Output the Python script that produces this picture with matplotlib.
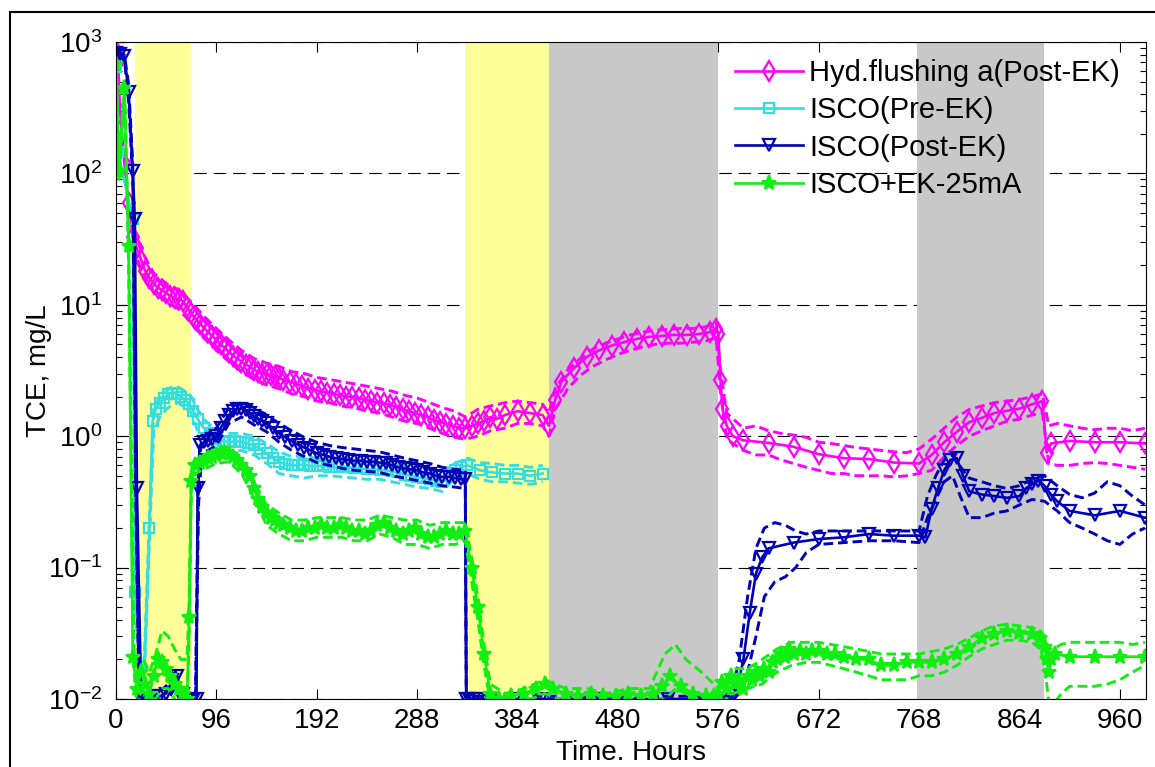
import matplotlib
matplotlib.use("Agg")
import matplotlib.pyplot as plt
from matplotlib.patches import Rectangle
from matplotlib.ticker import NullLocator

plt.rcParams['font.family'] = ['Liberation Sans', 'DejaVu Sans']
plt.rcParams['lines.scale_dashes'] = False

# ---- data (TCE, mg/L vs time, hours) ----
labels = ['Hyd.flushing a(Post-EK)', 'ISCO(Pre-EK)', 'ISCO(Post-EK)', 'ISCO+EK-25mA']

hyd_t = [0, 2, 4, 8, 12, 16, 20, 24, 28, 32,
         36, 40, 44, 48, 52, 56, 60, 64, 68, 72,
         76, 80, 84, 88, 92, 96, 100, 104, 108, 112,
         116, 120, 124, 128, 132, 136, 140, 144, 148, 152,
         156, 160, 166, 172, 178, 184, 190, 196, 202, 208,
         214, 220, 226, 232, 238, 244, 250, 256, 262, 268,
         274, 280, 286, 292, 298, 304, 310, 316, 322, 328,
         334, 340, 346, 352, 358, 364, 372, 384, 396, 408,
         414, 420, 426, 438, 450, 462, 474, 486, 498, 510,
         522, 534, 546, 558, 568, 574, 576, 578, 580, 584,
         590, 600, 624, 648, 672, 696, 720, 744, 768, 780,
         792, 804, 816, 828, 840, 852, 864, 876, 886, 890,
         894, 912, 936, 960, 984]
hyd_c = [850, 700, 290, 120, 60, 33, 27, 22, 18, 16,
         14.5, 13.5, 13, 12.3, 11.7, 11.2, 11, 10.7, 9.6, 8.6,
         7.8, 7.2, 6.7, 6.2, 5.8, 5.4, 5.0, 4.7, 4.4, 4.1,
         3.9, 3.7, 3.5, 3.4, 3.2, 3.1, 3.0, 2.95, 2.9, 2.85,
         2.75, 2.7, 2.6, 2.5, 2.4, 2.3, 2.25, 2.2, 2.15, 2.1,
         2.05, 2.0, 2.0, 1.95, 1.9, 1.85, 1.8, 1.78, 1.72, 1.68,
         1.6, 1.55, 1.5, 1.45, 1.4, 1.32, 1.28, 1.24, 1.2, 1.15,
         1.15, 1.2, 1.25, 1.3, 1.4, 1.35, 1.45, 1.55, 1.5, 1.45,
         1.2, 1.9, 2.6, 3.3, 4.0, 4.5, 4.9, 5.2, 5.5, 5.7,
         5.8, 5.9, 5.9, 6.0, 6.2, 6.6, 6.0, 2.7, 1.6, 1.2,
         1.0, 0.93, 0.89, 0.83, 0.73, 0.68, 0.67, 0.63, 0.62, 0.72,
         0.9, 1.08, 1.28, 1.38, 1.5, 1.56, 1.62, 1.75, 1.85, 0.75,
         0.88, 0.92, 0.9, 0.9, 0.88]
hyd_band_t = [16, 24, 36, 48, 60, 72, 84, 96, 108, 120,
              132, 144, 156, 168, 180, 192, 204, 216, 228, 240,
              252, 264, 276, 288, 300, 312, 324, 334, 346, 358,
              372, 384, 396, 408, 414, 420, 432, 444, 456, 468,
              480, 492, 504, 516, 528, 540, 552, 564, 574, 578,
              584, 600, 612, 624, 636, 648, 660, 672, 684, 696,
              708, 720, 732, 744, 756, 768, 780, 792, 804, 816,
              828, 840, 852, 864, 876, 886, 892, 900, 912, 924,
              936, 948, 960, 972, 984]
hyd_hi = [38, 26, 17.5, 14.5, 13, 10.5, 8.2, 6.6, 5.4, 4.5,
          3.9, 3.6, 3.4, 3.1, 3.0, 2.8, 2.7, 2.6, 2.5, 2.4,
          2.3, 2.2, 2.05, 1.95, 1.8, 1.65, 1.55, 1.4, 1.6, 1.7,
          1.8, 1.85, 1.8, 1.75, 1.5, 2.3, 3.2, 3.9, 4.6, 5.1,
          5.5, 5.9, 6.2, 6.4, 6.5, 6.6, 6.6, 6.8, 7.3, 3.2,
          1.5, 1.15, 1.2, 1.1, 1.05, 1.02, 0.98, 0.9, 0.88, 0.85,
          0.82, 0.8, 0.78, 0.76, 0.75, 0.8, 0.95, 1.15, 1.4, 1.6,
          1.7, 1.8, 1.85, 1.9, 2.0, 2.1, 1.2, 1.25, 1.2, 1.15,
          1.12, 1.15, 1.15, 1.1, 1.15]
hyd_lo = [28, 18.5, 12.5, 10.5, 9.3, 7.2, 5.6, 4.5, 3.7, 3.1,
          2.7, 2.45, 2.3, 2.1, 2.0, 1.85, 1.8, 1.7, 1.65, 1.55,
          1.5, 1.4, 1.3, 1.25, 1.15, 1.05, 0.98, 0.95, 1.0, 1.1,
          1.15, 1.25, 1.25, 1.2, 1.0, 1.6, 2.3, 2.9, 3.4, 3.8,
          4.2, 4.5, 4.8, 5.0, 5.1, 5.1, 5.2, 5.3, 5.6, 2.2,
          0.95, 0.78, 0.72, 0.72, 0.66, 0.62, 0.58, 0.55, 0.52, 0.52,
          0.5, 0.5, 0.5, 0.49, 0.5, 0.52, 0.55, 0.7, 0.85, 1.0,
          1.1, 1.2, 1.3, 1.35, 1.45, 1.5, 0.62, 0.6, 0.6, 0.62,
          0.63, 0.62, 0.6, 0.58, 0.56]

pre_t = [0, 2, 16, 18, 26, 32, 35, 38, 42, 46,
         50, 54, 58, 62, 66, 70, 74, 78, 84, 90,
         96, 102, 108, 114, 120, 126, 132, 138, 144, 150,
         156, 162, 168, 174, 180, 186, 192, 198, 204, 210,
         216, 222, 228, 234, 240, 246, 252, 258, 264, 270,
         276, 282, 288, 294, 300, 306, 312, 318, 324, 330,
         336, 348, 360, 372, 384, 396, 408]
pre_c = [650, 145, 45, 0.065, 0.0095, 0.2, 1.3, 1.6, 1.8, 1.95,
         2.1, 2.15, 2.1, 2.0, 1.9, 1.75, 1.55, 1.35, 1.15, 1.05,
         0.95, 0.92, 0.9, 0.92, 0.9, 0.88, 0.85, 0.8, 0.74, 0.68,
         0.64, 0.61, 0.6, 0.6, 0.61, 0.59, 0.59, 0.6, 0.58, 0.58,
         0.59, 0.58, 0.57, 0.57, 0.56, 0.56, 0.55, 0.55, 0.54, 0.53,
         0.51, 0.5, 0.49, 0.48, 0.47, 0.46, 0.45, 0.5, 0.55, 0.58,
         0.6, 0.55, 0.53, 0.52, 0.52, 0.5, 0.52]
pre_band_t = [18, 26, 32, 36, 42, 48, 54, 60, 66, 72,
              78, 84, 96, 108, 120, 132, 144, 156, 168, 180,
              192, 204, 216, 228, 240, 252, 264, 276, 288, 300,
              312, 324, 336, 348, 360, 372, 384, 396, 408]
pre_hi = [0.08, 0.012, 0.25, 1.6, 2.0, 2.2, 2.4, 2.35, 2.2, 2.0,
          1.6, 1.35, 1.1, 1.05, 1.05, 1.0, 0.88, 0.76, 0.7, 0.7,
          0.68, 0.68, 0.68, 0.66, 0.65, 0.64, 0.62, 0.6, 0.57, 0.55,
          0.54, 0.62, 0.68, 0.63, 0.62, 0.6, 0.6, 0.58, 0.6]
pre_lo = [0.05, 0.009, 0.16, 1.1, 1.4, 1.6, 1.75, 1.8, 1.65, 1.5,
          1.1, 0.95, 0.8, 0.76, 0.78, 0.72, 0.62, 0.52, 0.5, 0.48,
          0.5, 0.5, 0.49, 0.48, 0.47, 0.47, 0.45, 0.43, 0.41, 0.4,
          0.38, 0.48, 0.52, 0.47, 0.45, 0.45, 0.44, 0.43, 0.45]

post_t = [0, 4, 8, 12, 16, 18, 20, 24, 30, 36,
          42, 48, 54, 58, 64, 70, 74, 77, 78, 80,
          84, 88, 92, 96, 100, 104, 108, 112, 116, 120,
          124, 128, 132, 136, 140, 144, 150, 156, 162, 168,
          174, 180, 186, 192, 198, 204, 210, 216, 222, 228,
          234, 240, 246, 252, 258, 264, 270, 276, 282, 288,
          294, 300, 306, 312, 318, 324, 330, 334, 335, 338,
          342, 346, 358, 382, 406, 466, 528, 588, 594, 600,
          606, 612, 618, 624, 648, 672, 696, 720, 744, 768,
          774, 780, 786, 792, 798, 804, 810, 816, 828, 840,
          852, 864, 870, 876, 882, 888, 894, 900, 912, 936,
          960, 984]
post_c = [820, 810, 780, 420, 105, 45, 0.4, 0.01, 0.0098, 0.0105,
          0.0105, 0.011, 0.014, 0.015, 0.011, 0.01, 0.0098, 0.01, 0.4, 0.85,
          0.9, 0.92, 0.95, 1.0, 1.15, 1.3, 1.45, 1.55, 1.6, 1.62,
          1.58, 1.5, 1.42, 1.36, 1.3, 1.25, 1.15, 1.05, 0.98, 0.92,
          0.86, 0.82, 0.78, 0.74, 0.72, 0.7, 0.68, 0.67, 0.66, 0.65,
          0.65, 0.64, 0.64, 0.63, 0.62, 0.6, 0.58, 0.57, 0.56, 0.55,
          0.53, 0.52, 0.5, 0.49, 0.49, 0.48, 0.47, 0.47, 0.01, 0.01,
          0.01, 0.01, 0.01, 0.01, 0.01, 0.01, 0.01, 0.01, 0.012, 0.02,
          0.045, 0.09, 0.12, 0.14, 0.155, 0.165, 0.17, 0.18, 0.175, 0.175,
          0.17, 0.28, 0.4, 0.55, 0.66, 0.68, 0.5, 0.38, 0.36, 0.35,
          0.34, 0.35, 0.4, 0.43, 0.46, 0.42, 0.36, 0.32, 0.27, 0.25,
          0.27, 0.24]
post_band_t = [0, 8, 12, 16, 19, 22, 30, 40, 50, 56,
               62, 70, 76, 79, 82, 88, 96, 108, 120, 132,
               144, 156, 168, 180, 192, 204, 216, 228, 240, 252,
               264, 276, 288, 300, 312, 324, 334, 335, 360, 400,
               450, 500, 550, 588, 596, 604, 612, 620, 630, 640,
               650, 660, 672, 696, 720, 744, 768, 776, 784, 792,
               800, 808, 816, 828, 840, 852, 864, 876, 888, 900,
               912, 924, 936, 948, 960, 972, 984]
post_hi = [850, 800, 480, 120, 0.5, 0.011, 0.0105, 0.011, 0.013, 0.017,
           0.012, 0.011, 0.011, 0.6, 0.95, 1.05, 1.15, 1.65, 1.8, 1.65,
           1.45, 1.25, 1.1, 0.98, 0.9, 0.85, 0.82, 0.8, 0.78, 0.76,
           0.72, 0.68, 0.65, 0.62, 0.58, 0.56, 0.55, 0.0105, 0.0105, 0.0105,
           0.0105, 0.0105, 0.0105, 0.0105, 0.02, 0.06, 0.14, 0.2, 0.22, 0.21,
           0.19, 0.18, 0.19, 0.19, 0.19, 0.19, 0.19, 0.35, 0.5, 0.66,
           0.72, 0.58, 0.48, 0.45, 0.42, 0.4, 0.42, 0.47, 0.5, 0.42,
           0.36, 0.34, 0.37, 0.45, 0.42, 0.35, 0.3]
post_lo = [780, 740, 360, 90, 0.3, 0.0095, 0.0095, 0.0095, 0.01, 0.012,
           0.0095, 0.0095, 0.0095, 0.3, 0.75, 0.78, 0.85, 1.25, 1.4, 1.22,
           1.08, 0.9, 0.78, 0.7, 0.63, 0.6, 0.57, 0.55, 0.54, 0.53,
           0.5, 0.48, 0.46, 0.44, 0.42, 0.41, 0.4, 0.0095, 0.0095, 0.0095,
           0.0095, 0.0095, 0.0095, 0.0095, 0.011, 0.016, 0.03, 0.06, 0.078, 0.085,
           0.1, 0.13, 0.15, 0.155, 0.16, 0.16, 0.155, 0.24, 0.33, 0.45,
           0.5, 0.34, 0.24, 0.24, 0.26, 0.27, 0.3, 0.33, 0.32, 0.27,
           0.22, 0.2, 0.18, 0.16, 0.15, 0.18, 0.2]

ek_t = [0, 3, 8, 12, 16, 20, 24, 28, 32, 36,
        40, 44, 48, 52, 56, 60, 64, 68, 70, 72,
        76, 80, 84, 88, 92, 96, 100, 104, 108, 112,
        116, 120, 124, 128, 132, 136, 140, 144, 148, 152,
        156, 160, 166, 172, 178, 184, 190, 196, 202, 208,
        214, 220, 226, 232, 238, 244, 250, 256, 262, 268,
        274, 280, 286, 292, 298, 304, 310, 316, 322, 328,
        334, 340, 346, 352, 358, 366, 378, 390, 402, 410,
        418, 430, 442, 454, 466, 478, 490, 502, 514, 522,
        530, 540, 552, 564, 572, 576, 580, 584, 588, 592,
        596, 600, 604, 608, 612, 616, 620, 624, 628, 632,
        636, 640, 644, 648, 654, 660, 666, 672, 680, 688,
        696, 708, 720, 732, 744, 756, 768, 780, 792, 804,
        816, 828, 840, 852, 864, 876, 884, 888, 890, 892,
        894, 898, 912, 936, 960, 984]
ek_c = [680, 105, 450, 28, 0.021, 0.012, 0.016, 0.013, 0.011, 0.015,
        0.02, 0.019, 0.017, 0.015, 0.013, 0.012, 0.011, 0.01, 0.042, 0.46,
        0.6, 0.62, 0.65, 0.68, 0.7, 0.72, 0.74, 0.75, 0.73, 0.7,
        0.66, 0.6, 0.55, 0.5, 0.4, 0.33, 0.29, 0.26, 0.24, 0.23,
        0.22, 0.21, 0.2, 0.19, 0.19, 0.2, 0.2, 0.21, 0.2, 0.2,
        0.21, 0.2, 0.19, 0.19, 0.18, 0.19, 0.21, 0.22, 0.2, 0.19,
        0.18, 0.19, 0.2, 0.18, 0.17, 0.17, 0.18, 0.19, 0.18, 0.18,
        0.19, 0.1, 0.05, 0.022, 0.011, 0.01, 0.0105, 0.011, 0.012, 0.013,
        0.012, 0.011, 0.0105, 0.011, 0.0105, 0.0105, 0.011, 0.0105, 0.011, 0.0125,
        0.015, 0.0125, 0.011, 0.0105, 0.0105, 0.011, 0.0135, 0.012, 0.015, 0.013,
        0.014, 0.012, 0.015, 0.014, 0.016, 0.015, 0.017, 0.016, 0.019, 0.02,
        0.022, 0.021, 0.024, 0.022, 0.023, 0.022, 0.023, 0.023, 0.022, 0.022,
        0.021, 0.02, 0.02, 0.018, 0.018, 0.019, 0.019, 0.019, 0.02, 0.022,
        0.025, 0.029, 0.031, 0.033, 0.032, 0.031, 0.029, 0.025, 0.02, 0.016,
        0.02, 0.022, 0.021, 0.021, 0.021, 0.021]
ek_band_t = [0, 3, 8, 12, 17, 20, 26, 32, 38, 44,
             50, 56, 62, 68, 70, 72, 76, 84, 96, 108,
             120, 132, 144, 156, 168, 180, 192, 204, 216, 228,
             240, 252, 264, 276, 288, 300, 312, 324, 334, 340,
             346, 352, 358, 372, 390, 410, 430, 450, 470, 490,
             510, 525, 535, 545, 560, 576, 590, 604, 618, 632,
             646, 660, 672, 684, 696, 708, 720, 732, 744, 756,
             768, 780, 792, 804, 816, 828, 840, 852, 864, 876,
             884, 888, 892, 896, 904, 912, 924, 936, 948, 960,
             972, 984]
ek_hi = [750, 120, 480, 32, 0.025, 0.014, 0.02, 0.016, 0.022, 0.033,
         0.03, 0.024, 0.02, 0.02, 0.06, 0.55, 0.66, 0.72, 0.8, 0.8,
         0.66, 0.45, 0.3, 0.26, 0.23, 0.23, 0.24, 0.24, 0.24, 0.23,
         0.23, 0.25, 0.24, 0.23, 0.23, 0.21, 0.22, 0.22, 0.22, 0.12,
         0.06, 0.026, 0.013, 0.011, 0.012, 0.014, 0.012, 0.012, 0.011, 0.012,
         0.012, 0.022, 0.026, 0.02, 0.016, 0.012, 0.017, 0.017, 0.02, 0.024,
         0.027, 0.027, 0.027, 0.026, 0.025, 0.024, 0.023, 0.022, 0.022, 0.022,
         0.022, 0.023, 0.024, 0.026, 0.029, 0.033, 0.036, 0.037, 0.036, 0.035,
         0.033, 0.03, 0.024, 0.024, 0.026, 0.027, 0.027, 0.027, 0.027, 0.027,
         0.026, 0.027]
ek_lo = [600, 90, 400, 24, 0.017, 0.009, 0.012, 0.009, 0.01, 0.012,
         0.012, 0.01, 0.009, 0.009, 0.03, 0.38, 0.52, 0.56, 0.62, 0.64,
         0.52, 0.34, 0.21, 0.18, 0.16, 0.16, 0.17, 0.17, 0.17, 0.16,
         0.16, 0.18, 0.17, 0.15, 0.15, 0.14, 0.15, 0.15, 0.16, 0.08,
         0.04, 0.018, 0.0095, 0.009, 0.0095, 0.011, 0.0095, 0.0095, 0.009, 0.0095,
         0.0095, 0.01, 0.012, 0.011, 0.0095, 0.009, 0.011, 0.012, 0.013, 0.016,
         0.018, 0.019, 0.019, 0.018, 0.017, 0.016, 0.015, 0.014, 0.014, 0.014,
         0.015, 0.015, 0.016, 0.018, 0.021, 0.024, 0.026, 0.028, 0.028, 0.027,
         0.024, 0.018, 0.0095, 0.009, 0.011, 0.0125, 0.0125, 0.0125, 0.013, 0.014,
         0.016, 0.018]

# shaded treatment periods (hours)
yellow_spans = [(18, 72), (334, 414)]
gray_spans = [(414, 576), (766, 887)]


fig = plt.figure(figsize=(11.55, 7.67), dpi=100)
fig.add_artist(Rectangle((10 / 1155, -0.05), 1.1, 1 - 12 / 767 + 0.05,
                         transform=fig.transFigure, fill=False,
                         edgecolor='black', lw=1.5))

ax = fig.add_axes([116 / 1155, 1 - 699 / 767, 1030 / 1155, 657 / 767])
ax.set_yscale('log')

for a, b in yellow_spans:
    ax.axvspan(a, b, color='#ffff99', lw=0)
for a, b in gray_spans:
    ax.axvspan(a, b, color='#c8c8c8', lw=0)

series = [
    (hyd_t, hyd_c, hyd_band_t, hyd_hi, hyd_lo, '#ff00ff', 'd', 10, 'none'),
    (pre_t, pre_c, pre_band_t, pre_hi, pre_lo, '#33dede', 's', 7, 'none'),
    (post_t, post_c, post_band_t, post_hi, post_lo, '#0000b8', 'v', 8, 'none'),
    (ek_t, ek_c, ek_band_t, ek_hi, ek_lo, '#11ee11', '*', 11, None),
]

handles = []
for t, c, tb, hi, lo, col, mk, ms, mfc in series:
    for band in (hi, lo):
        ax.plot(tb, band, color=col, lw=2.1, linestyle='--', dashes=(7, 3.5))
    line, = ax.plot(t, c, color=col, lw=1.9, marker=mk, markersize=ms,
                    markerfacecolor=mfc if mfc else col, markeredgewidth=1.6)
    handles.append(line)

ax.set_xlim(0, 985)
ax.set_ylim(0.01, 1000)
ax.set_xticks(range(0, 961, 96))
ax.xaxis.set_minor_locator(NullLocator())
ax.yaxis.grid(True, which='major', color='black', lw=0.8, linestyle=(0, (9, 5)))
ax.set_axisbelow(True)
ax.tick_params(which='both', direction='in', top=True, right=True, labelsize=20)
ax.tick_params(which='major', length=7, width=0.8)
ax.tick_params(which='minor', length=4, width=0.8)
ax.tick_params(axis='x', pad=6.5)
ax.tick_params(axis='y', pad=10)
for s in ax.spines.values():
    s.set_linewidth(0.8)

ax.set_xlabel('Time. Hours', fontsize=20)
ax.set_ylabel('TCE, mg/L', fontsize=20)
ax.xaxis.set_label_coords(0.5, -0.063)
ax.yaxis.set_label_coords(-0.062, 0.5)

ax.legend(handles, labels, loc='upper left', bbox_to_anchor=(735 / 1155, 1 - 59 / 767),
          bbox_transform=fig.transFigure, frameon=False, fontsize=21,
          borderpad=0, borderaxespad=0, handlelength=2.34, handletextpad=0.2,
          labelspacing=0.32, numpoints=1)

fig.savefig('out.png', dpi=100)
